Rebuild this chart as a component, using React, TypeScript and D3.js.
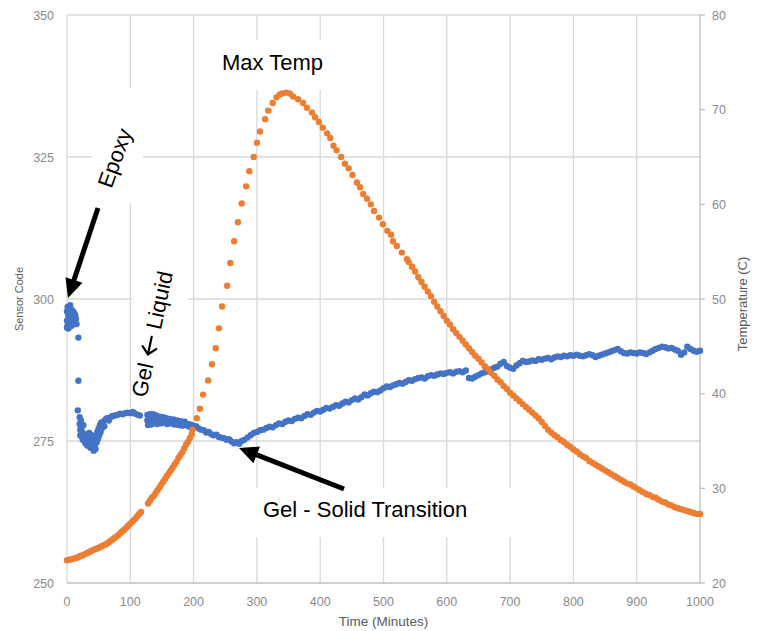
import React from "react";
import * as d3 from "d3";

// ---------- DATA ----------
const xTicks = [0, 100, 200, 300, 400, 500, 600, 700, 800, 900, 1000];
const leftTicks = [250, 275, 300, 325, 350];
const rightTicks = [20, 30, 40, 50, 60, 70, 80];

// Sensor code (left axis) – blue
const sensorEpoxy: [number, number][] = [
  [0, 297.8], [0, 296.2], [0, 295.0], [1, 298.6], [1, 295.4], [2, 297.1], [2, 294.8], [2, 296.0],
  [3, 298.2], [3, 296.6], [4, 297.5], [4, 295.9], [5, 298.9], [5, 296.9], [6, 297.6], [6, 295.2],
  [7, 298.1], [7, 296.4], [8, 297.3], [8, 295.7], [9, 297.9], [9, 296.8], [10, 297.0], [10, 295.5],
  [11, 297.6], [11, 296.3], [12, 296.9], [12, 295.8], [13, 297.2], [14, 296.5], [15, 295.6],
  [18, 293.2], [18, 285.6],
];
const sensorLiquid: [number, number][] = [
  [17, 280.4], [20, 279.2], [20, 278.0], [21, 277.0], [21, 276.0], [22, 278.6], [23, 277.4], [23, 275.8],
  [24, 276.6], [25, 275.2], [26, 277.8], [27, 276.2], [28, 275.0], [29, 274.6], [30, 276.0], [31, 275.4],
  [32, 274.2], [33, 275.8], [34, 274.8], [35, 276.4], [36, 275.2], [37, 273.8], [38, 274.6], [39, 276.0],
  [40, 275.0], [41, 274.0], [42, 273.3], [43, 275.4], [44, 274.3], [45, 273.6], [46, 275.9], [47, 274.8],
  [48, 276.6], [49, 275.4], [50, 277.2], [51, 276.0], [52, 277.8], [53, 276.6], [54, 278.2], [55, 277.2],
  [57, 278.4], [59, 277.6], [61, 278.8], [63, 279.0], [66, 278.6], [69, 279.2], [72, 279.4],
  [76, 279.5], [80, 279.6], [84, 279.8], [88, 279.7], [92, 279.9], [96, 280.0], [100, 279.9],
  [104, 280.1], [108, 279.8], [112, 279.6], [115, 279.5],
];
const sensorGel: [number, number][] = [
  [127, 279.6], [127, 278.6], [128, 277.8], [129, 279.2], [130, 278.2], [131, 279.7], [132, 278.9],
  [133, 277.9], [134, 279.4], [135, 278.5], [136, 279.7], [137, 278.2], [138, 279.1], [140, 278.7],
  [141, 279.5], [142, 278.0], [144, 279.0], [145, 278.4], [147, 279.3], [148, 278.1], [150, 278.8],
  [152, 279.2], [153, 278.2], [155, 278.7], [157, 279.0], [158, 278.0], [160, 278.5], [162, 278.9],
  [164, 278.1], [166, 278.4], [168, 278.8], [170, 277.9], [172, 278.3], [174, 278.6], [176, 277.8],
  [178, 278.2], [180, 278.5], [182, 277.7], [184, 278.1], [186, 278.4], [188, 277.8], [190, 278.0],
  [192, 277.6], [194, 277.9], [196, 277.4], [198, 277.8], [200, 277.5],
  [204, 277.6], [208, 277.2], [212, 277.0], [216, 276.9], [220, 276.5], [224, 276.6], [228, 276.2],
  [232, 276.0], [236, 276.1], [240, 275.7], [244, 275.6], [248, 275.5], [252, 275.2], [256, 275.3],
  [260, 274.9], [264, 274.6], [268, 274.8], [272, 274.5], [276, 275.0],
];
const sensorSolidStart = 280;
const sensorSolidStep = 5;
const sensorSolid = [
  275.2, 275.6, 276.0, 276.4, 276.6, 276.9, 277.0, 277.3, 277.5, 277.4,
  277.8, 278.1, 278.0, 278.4, 278.6, 278.5, 278.9, 279.1, 279.0, 279.4,
  279.7, 279.6, 280.0, 280.3, 280.2, 280.5, 280.8, 280.7, 281.0, 281.3,
  281.2, 281.6, 281.9, 281.8, 282.2, 282.5, 282.3, 282.7, 283.2, 283.0,
  283.4, 283.7, 283.6, 283.9, 284.3, 284.6, 284.5, 284.8, 285.0, 285.2,
  285.1, 285.4, 285.7, 285.6, 285.9, 286.1, 286.2, 286.0, 286.4, 286.6,
  286.5, 286.7, 286.9, 286.8, 287.0, 287.1, 286.9, 287.2, 287.3, 287.1,
  287.4, 286.1, 286.0, 286.3, 286.6, 286.9, 287.1, 287.3, 287.6, 287.9,
  288.1, 288.6, 288.9, 288.2, 287.9, 287.7, 288.3, 288.7, 289.1, 288.9,
  289.0, 289.2, 289.1, 289.4, 289.3, 289.5, 289.6, 289.4, 289.7, 289.9,
  289.8, 290.0, 289.9, 290.1, 290.0, 290.2, 290.0, 289.9, 290.1, 290.3,
  290.1, 289.8, 290.0, 290.2, 290.4, 290.6, 290.8, 291.0, 291.2, 290.8,
  290.5, 290.4, 290.6, 290.5, 290.4, 290.6, 290.5, 290.3, 290.6, 290.9,
  291.2, 291.4, 291.6, 291.5, 291.3, 291.4, 291.1, 290.9, 290.2, 290.6,
  291.6, 291.2, 290.9, 290.7, 290.9,
];

// Temperature (right axis) – orange
const tempWarmStart = 0;
const tempWarmStep = 3;
const tempWarm = [
  22.4, 22.45, 22.5, 22.55, 22.6, 22.65, 22.75, 22.85, 22.9, 23.0,
  23.1, 23.2, 23.3, 23.4, 23.5, 23.6, 23.65, 23.75, 23.85, 23.95,
  24.05, 24.15, 24.3, 24.45, 24.6, 24.75, 24.9, 25.05, 25.25, 25.45,
  25.6, 25.8, 26.0, 26.2, 26.4, 26.6, 26.8, 27.05, 27.3, 27.5,
];
const tempHeatStart = 128;
const tempHeatStep = 3;
const tempHeat = [
  28.4, 28.7, 29.0, 29.2, 29.5, 29.8, 30.1, 30.4, 30.7, 31.0, 31.3, 31.6,
  31.9, 32.2, 32.5, 32.8, 33.2, 33.5, 33.8, 34.2, 34.6, 34.9, 35.3, 35.7,
];
const tempPeak: [number, number][] = [
  [198, 36.2], [205, 37.4], [210, 38.4], [215, 39.9], [223, 41.4], [229, 43.1], [235, 44.8],
  [240, 46.9], [245, 49.2], [253, 51.4], [258, 53.8], [264, 56.1], [270, 58.1], [276, 60.1],
  [283, 61.9], [288, 63.5], [295, 65.0], [300, 66.5], [305, 67.7], [313, 69.0], [318, 69.9],
  [325, 70.7], [331, 71.3], [336, 71.6], [340, 71.7], [346, 71.8], [352, 71.7], [357, 71.4],
  [365, 71.1], [373, 70.7], [379, 70.2], [387, 69.7], [392, 69.2], [398, 68.7], [404, 68.1],
  [411, 67.5], [416, 67.0], [421, 66.2], [426, 65.7], [433, 65.0], [439, 64.3], [445, 63.8],
  [451, 63.1], [458, 62.3], [463, 61.8], [468, 61.1], [474, 60.6], [480, 60.0], [485, 59.3],
  [493, 58.6], [499, 57.9], [506, 57.2], [512, 56.8], [515, 56.1], [521, 55.6], [529, 54.9],
  [537, 54.2],
];
const tempCoolStart = 540;
const tempCoolStep = 5;
const tempCool = [
  53.9, 53.4, 52.9, 52.3, 51.8, 51.3, 50.8, 50.3, 49.7, 49.2,
  48.7, 48.2, 47.7, 47.3, 46.8, 46.4, 46.0, 45.6, 45.2, 44.8,
  44.4, 44.0, 43.7, 43.3, 42.9, 42.6, 42.2, 41.9, 41.5, 41.2,
  40.8, 40.5, 40.1, 39.8, 39.5, 39.2, 38.9, 38.6, 38.3, 38.0,
  37.7, 37.4, 37.0, 36.6, 36.2, 35.9, 35.6, 35.4, 35.1, 34.9,
  34.6, 34.4, 34.1, 33.9, 33.6, 33.4, 33.2, 32.9, 32.7, 32.5,
  32.3, 32.1, 31.9, 31.7, 31.5, 31.3, 31.1, 30.9, 30.7, 30.5,
  30.4, 30.2, 30.0, 29.8, 29.6, 29.4, 29.3, 29.1, 29.0, 28.8,
  28.6, 28.5, 28.3, 28.2, 28.0, 27.9, 27.8, 27.7, 27.6, 27.5,
  27.4, 27.3, 27.3,
];

// ---------- HELPERS ----------
const regular = (start: number, step: number, vals: number[]): [number, number][] =>
  vals.map((v, i) => [start + i * step, v]);

const FONT = "'Liberation Sans', Arial, sans-serif";

function Arrow({ x1, y1, x2, y2 }: { x1: number; y1: number; x2: number; y2: number }) {
  const dx = x2 - x1, dy = y2 - y1;
  const len = Math.hypot(dx, dy);
  const ux = dx / len, uy = dy / len;
  const hl = 19, hw = 9;
  const bx = x2 - ux * hl, by = y2 - uy * hl;
  const px = -uy, py = ux;
  return (
    <g>
      <line x1={x1} y1={y1} x2={bx + ux * 2} y2={by + uy * 2} stroke="#000" strokeWidth={5} />
      <polygon
        points={`${x2},${y2} ${bx + px * hw},${by + py * hw} ${bx - px * hw},${by - py * hw}`}
        fill="#000"
      />
    </g>
  );
}

export default function App() {
  const W = 760, H = 631;
  const x = d3.scaleLinear().domain([0, 1000]).range([67, 700]);
  const yL = d3.scaleLinear().domain([250, 350]).range([583, 15]);
  const yR = d3.scaleLinear().domain([20, 80]).range([583, 15]);

  const sensor = [...sensorEpoxy, ...sensorLiquid, ...sensorGel, ...regular(sensorSolidStart, sensorSolidStep, sensorSolid)];
  const temp = [
    ...regular(tempWarmStart, tempWarmStep, tempWarm),
    ...regular(tempHeatStart, tempHeatStep, tempHeat),
    ...tempPeak,
    ...regular(tempCoolStart, tempCoolStep, tempCool),
  ];

  const grid = "#d9d9d9";
  const axisCol = "#bfbfbf";
  const tickCol = "#8a8a8a";
  const titleCol = "#595959";
  const r = 3.2;

  return (
    <svg width={W} height={H} style={{ position: "absolute", left: 0, top: 0, background: "#fff" }} fontFamily={FONT}>
      <rect x={0} y={0} width={W} height={H} fill="#fff" />
      {/* gridlines */}
      {xTicks.slice(1, -1).map((t) => (
        <line key={"vx" + t} x1={x(t)} x2={x(t)} y1={yL(350)} y2={yL(250)} stroke={grid} strokeWidth={1.3} />
      ))}
      {leftTicks.slice(1).map((t) => (
        <line key={"hy" + t} x1={x(0)} x2={x(1000)} y1={yL(t)} y2={yL(t)} stroke={grid} strokeWidth={1.3} />
      ))}
      <line x1={x(0)} x2={x(0)} y1={yL(350)} y2={yL(250)} stroke={grid} strokeWidth={1.3} />
      {/* axes */}
      <line x1={x(0)} x2={x(1000)} y1={yL(250)} y2={yL(250)} stroke={axisCol} strokeWidth={1.3} />
      <line x1={x(1000)} x2={x(1000)} y1={yR(80)} y2={yR(20)} stroke={axisCol} strokeWidth={1.3} />
      {rightTicks.map((t) => (
        <line key={"rt" + t} x1={x(1000)} x2={x(1000) + 5} y1={yR(t)} y2={yR(t)} stroke={axisCol} strokeWidth={1.3} />
      ))}
      {/* tick labels */}
      {leftTicks.map((t) => (
        <text key={"lt" + t} x={54} y={yL(t) + 4.5} textAnchor="end" fontSize={12.5} fill={tickCol}>{t}</text>
      ))}
      {rightTicks.map((t) => (
        <text key={"rl" + t} x={712} y={yR(t) + 4.5} textAnchor="start" fontSize={12.5} fill={tickCol}>{t}</text>
      ))}
      {xTicks.map((t) => (
        <text key={"xl" + t} x={x(t)} y={606} textAnchor="middle" fontSize={12.5} fill={tickCol}>{t}</text>
      ))}
      {/* axis titles */}
      <text transform="translate(23,299) rotate(-90)" textAnchor="middle" fontSize={11} fill={titleCol}>Sensor Code</text>
      <text transform="translate(747,304) rotate(-90)" textAnchor="middle" fontSize={13} fill={titleCol}>Temperature (C)</text>
      <text x={383.5} y={626} textAnchor="middle" fontSize={13.5} fill={titleCol}>Time (Minutes)</text>

      {/* annotation backgrounds */}
      <rect x={92} y={88} width={51} height={115} fill="#fff" />
      <rect x={132} y={222} width={56} height={178} fill="#fff" />
      <rect x={202} y={40} width={140} height={50} fill="#fff" />
      <rect x={250} y={488} width={268} height={49} fill="#fff" />

      {/* series */}
      <g fill="#4472C4">
        {sensor.map(([t, v], i) => (
          <circle key={"s" + i} cx={x(t)} cy={yL(v)} r={r} />
        ))}
      </g>
      <g fill="#ED7D31">
        {temp.map(([t, v], i) => (
          <circle key={"t" + i} cx={x(t)} cy={yR(v)} r={r} />
        ))}
      </g>

      {/* annotations */}
      <text transform="translate(115,158) rotate(-70)" textAnchor="middle" dominantBaseline="central" fontSize={22} fill="#000">Epoxy</text>
      <g transform="translate(154,326) rotate(-78)">
        <text x={-38} textAnchor="end" dominantBaseline="central" fontSize={22} fill="#000">Gel</text>
        <g stroke="#000" strokeWidth={2.2} fill="none" strokeLinecap="round" strokeLinejoin="round">
          <line x1={-29} y1={0} x2={-11} y2={0} />
          <polyline points="-22,-7 -29,0 -22,7" />
        </g>
        <text x={-3} textAnchor="start" dominantBaseline="central" fontSize={22} fill="#000">Liquid</text>
      </g>
      <text x={222} y={70} fontSize={22} fill="#000">Max Temp</text>
      <text x={263} y={517} fontSize={22} fill="#000">Gel - Solid Transition</text>
      <Arrow x1={98} y1={208} x2={68} y2={298} />
      <Arrow x1={344} y1={489} x2={239} y2={448} />
    </svg>
  );
}
